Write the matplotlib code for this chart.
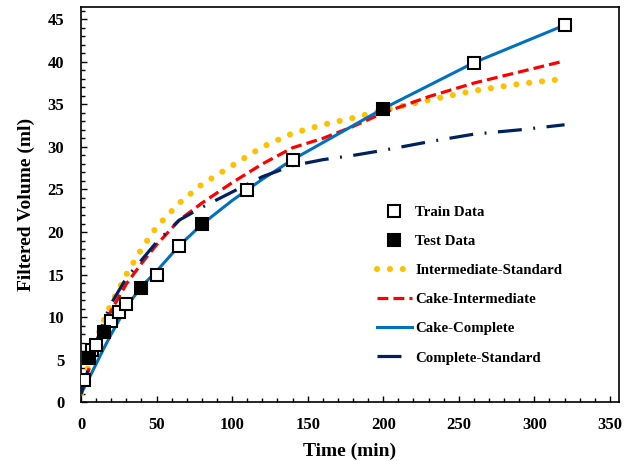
import matplotlib
matplotlib.use("Agg")
import matplotlib.pyplot as plt
from matplotlib.ticker import MultipleLocator

# Data
train_t = [2, 7, 10, 20, 25, 30, 50, 65, 110, 140, 260, 320]
train_v = [2.6, 6.1, 6.7, 9.5, 10.6, 11.6, 15.0, 18.4, 24.9, 28.5, 39.9, 44.3]
test_t = [5, 15, 40, 80, 200]
test_v = [5.2, 8.2, 13.4, 20.9, 34.5]

model_t = [0, 5, 10, 15, 20, 30, 40, 50, 65, 80, 100, 120, 140, 160, 180, 200, 230, 260, 290, 320]
inter_std = [1.0, 4.3, 7.3, 9.6, 11.6, 15.0, 18.0, 20.6, 23.4, 25.6, 27.8, 30.0, 31.6, 32.6, 33.4, 34.3, 35.5, 36.6, 37.4, 38.0]
cake_inter = [1.0, 3.8, 6.4, 8.7, 10.8, 13.9, 16.3, 18.5, 21.4, 23.4, 25.8, 28.0, 29.9, 31.0, 32.4, 34.0, 35.9, 37.5, 38.8, 40.1]
cake_comp = [1.0, 2.7, 4.5, 6.3, 8.0, 11.2, 13.6, 15.4, 18.4, 20.9, 23.7, 26.2, 28.5, 30.5, 32.5, 34.5, 37.2, 39.9, 42.1, 44.3]
comp_std = [1.0, 4.0, 7.0, 9.5, 11.6, 14.6, 16.7, 18.8, 21.4, 22.9, 24.7, 26.5, 27.8, 28.5, 29.0, 29.6, 30.6, 31.5, 32.0, 32.6]

x_ticks = [0, 50, 100, 150, 200, 250, 300, 350]
y_ticks = [0, 5, 10, 15, 20, 25, 30, 35, 40, 45]

plt.rcParams['font.family'] = ['Liberation Serif', 'DejaVu Serif']
plt.rcParams['font.weight'] = 'bold'

fig = plt.figure(figsize=(6.35, 4.61), dpi=100)
ax = fig.add_axes([81/635, 1-402.3/461, (619-81)/635, (402.3-7.3)/461])

ax.plot(model_t, inter_std, color='#FFC000', lw=4.4, linestyle=(0, (0.01, 2.1)),
        dash_capstyle='round', label='Intermediate-Standard', zorder=2)
ax.plot(model_t, cake_inter, color='#FF0000', lw=2.3, linestyle=(0, (3.4, 1.6)),
        label='Cake-Intermediate', zorder=3)
ax.plot(model_t, cake_comp, color='#0070C0', lw=2.2, linestyle='-',
        label='Cake-Complete', zorder=3)
ax.plot(model_t, comp_std, color='#002060', lw=2.3, linestyle=(0, (7.5, 3.6, 0.6, 3.6)),
        label='Complete-Standard', zorder=3)

ax.plot(train_t, train_v, linestyle='none', marker='s', markersize=8.5,
        markerfacecolor='white', markeredgecolor='black', markeredgewidth=1.5,
        label='Train Data', zorder=5)
ax.plot(test_t, test_v, linestyle='none', marker='s', markersize=8.5,
        markerfacecolor='black', markeredgecolor='black', markeredgewidth=1.5,
        label='Test Data', zorder=5)

ax.set_xlim(0, 356)
ax.set_ylim(0, 46.4)
ax.set_xticks(x_ticks)
ax.set_yticks(y_ticks)
ax.xaxis.set_minor_locator(MultipleLocator(10))
ax.yaxis.set_minor_locator(MultipleLocator(1))
ax.tick_params(axis='both', which='both', direction='in', labelsize=12, width=1)
ax.tick_params(axis='both', which='major', length=4)
ax.tick_params(axis='both', which='minor', length=3)
ax.tick_params(axis='x', which='major', pad=10.5)
ax.tick_params(axis='y', which='major', pad=12)
ax.tick_params(axis='x', which='both', top=False)
ax.tick_params(axis='y', which='both', right=False)
for lab in ax.get_xticklabels() + ax.get_yticklabels():
    lab.set_fontweight('bold')
for s in ax.spines.values():
    s.set_linewidth(1.2)

ax.set_xlabel('Time (min)', fontsize=14, fontweight='bold', labelpad=7)
ax.set_ylabel('Filtered Volume (ml)', fontsize=14, fontweight='bold', labelpad=9)

handles, labels = ax.get_legend_handles_labels()
order = ['Train Data', 'Test Data', 'Intermediate-Standard', 'Cake-Intermediate',
         'Cake-Complete', 'Complete-Standard']
hd = dict(zip(labels, handles))
leg = ax.legend([hd[k] for k in order], order, loc='upper left',
                bbox_to_anchor=(364/635, 1-192/461), bbox_transform=fig.transFigure,
                frameon=False, handlelength=2.3, handletextpad=0.25,
                labelspacing=1.06, prop={'weight': 'bold', 'size': 10.7})

fig.savefig('out.png', dpi=100)
